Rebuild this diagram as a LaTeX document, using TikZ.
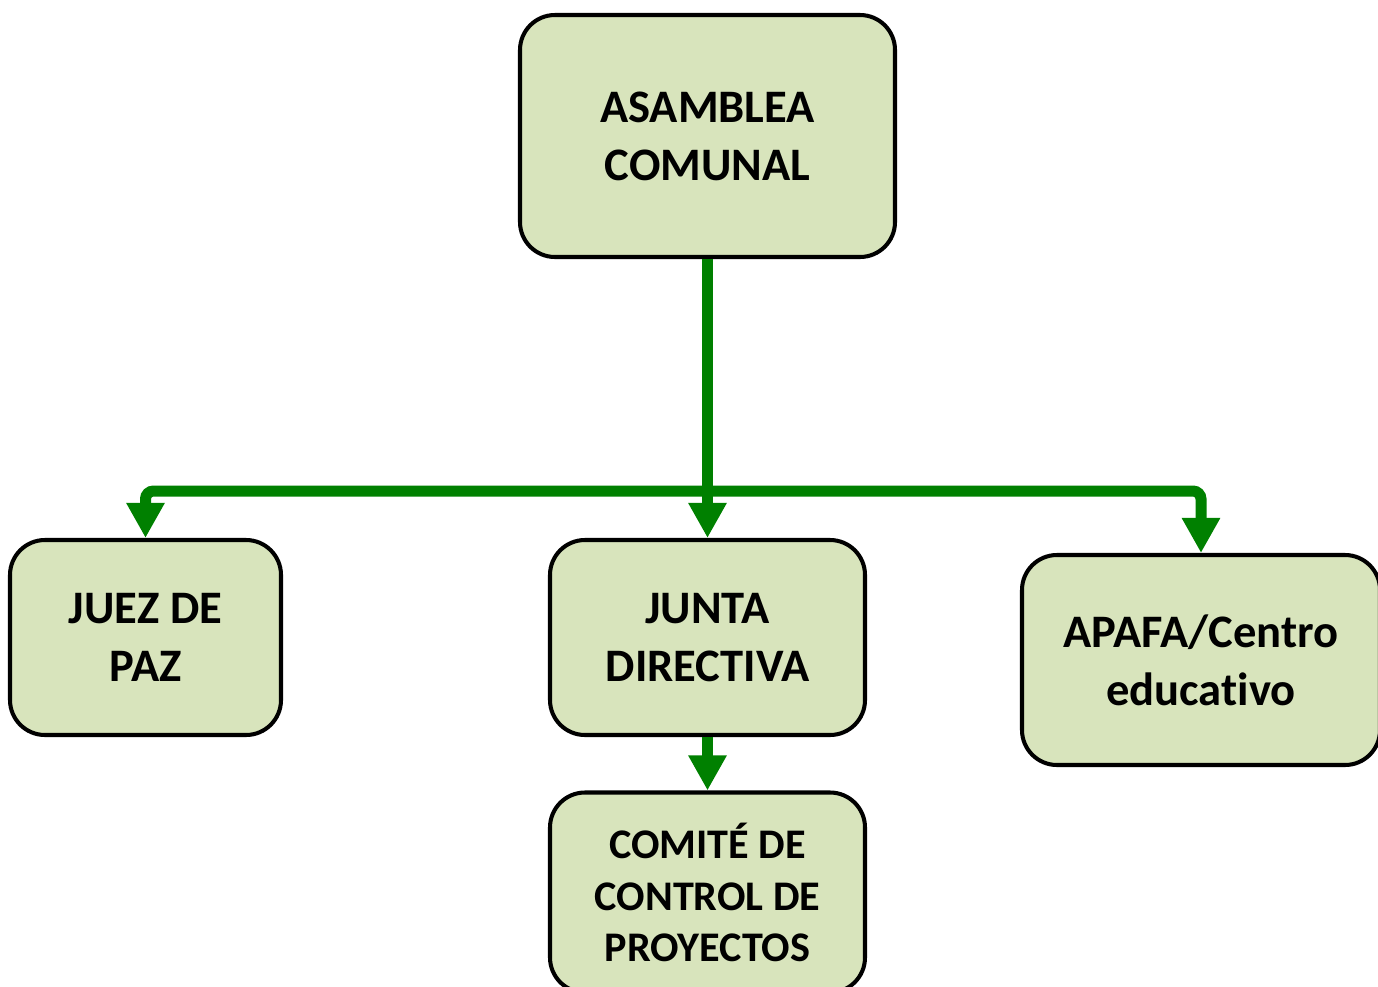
\documentclass[tikz,border=0pt]{standalone}
\usepackage{fontspec}
\setmainfont{Carlito}[Ligatures={NoCommon}]
\usetikzlibrary{arrows.meta}
\definecolor{boxfill}{RGB}{216,228,188}
\definecolor{flowgreen}{RGB}{0,128,0}

\begin{document}
\begin{tikzpicture}[block/.style={draw, fill=boxfill, line width=2.3pt, rounded corners=0.7cm, align=center, inner sep=0pt, font=\fontsize{26.5}{33}\selectfont\bfseries},
  flow/.style={draw=flowgreen, line width=0.22cm, -{Triangle[width=0.72cm, length=0.7cm]}, flowgreen}]

  \useasboundingbox (0,0) rectangle (27.56,-19.74);

  % Top
  \node[block, minimum width=7.5cm, minimum height=4.84cm] (asamblea) at (14.15,-2.72) {ASAMBLEA\\COMUNAL};

  % Second row
  \node[block, minimum width=5.42cm, minimum height=3.9cm] (juez) at (2.91,-12.75) {JUEZ DE\\PAZ};
  \node[block, minimum width=6.3cm, minimum height=3.9cm] (junta) at (14.15,-12.75) {JUNTA\\DIRECTIVA};
  \node[block, minimum width=7.16cm, minimum height=4.2cm] (apafa) at (24.02,-13.2) {APAFA/Centro\\educativo};

  % Bottom
  \node[block, minimum width=6.3cm, minimum height=4.0cm, font=\fontsize{24}{29.5}\selectfont\bfseries] (comite) at (14.15,-17.85) {COMITÉ DE\\CONTROL DE\\PROYECTOS};

  % Branch point
  \coordinate (hub) at (14.15,-9.82);

  % Arrows
  \draw[flow] (asamblea.south) -- (junta.north);
  \draw[flow, rounded corners=0.16cm] (hub) -| (juez.north);
  \draw[flow, rounded corners=0.16cm] (hub) -| (apafa.north);
  \draw[flow] (junta.south) -- (comite.north);

\end{tikzpicture}
\end{document}
